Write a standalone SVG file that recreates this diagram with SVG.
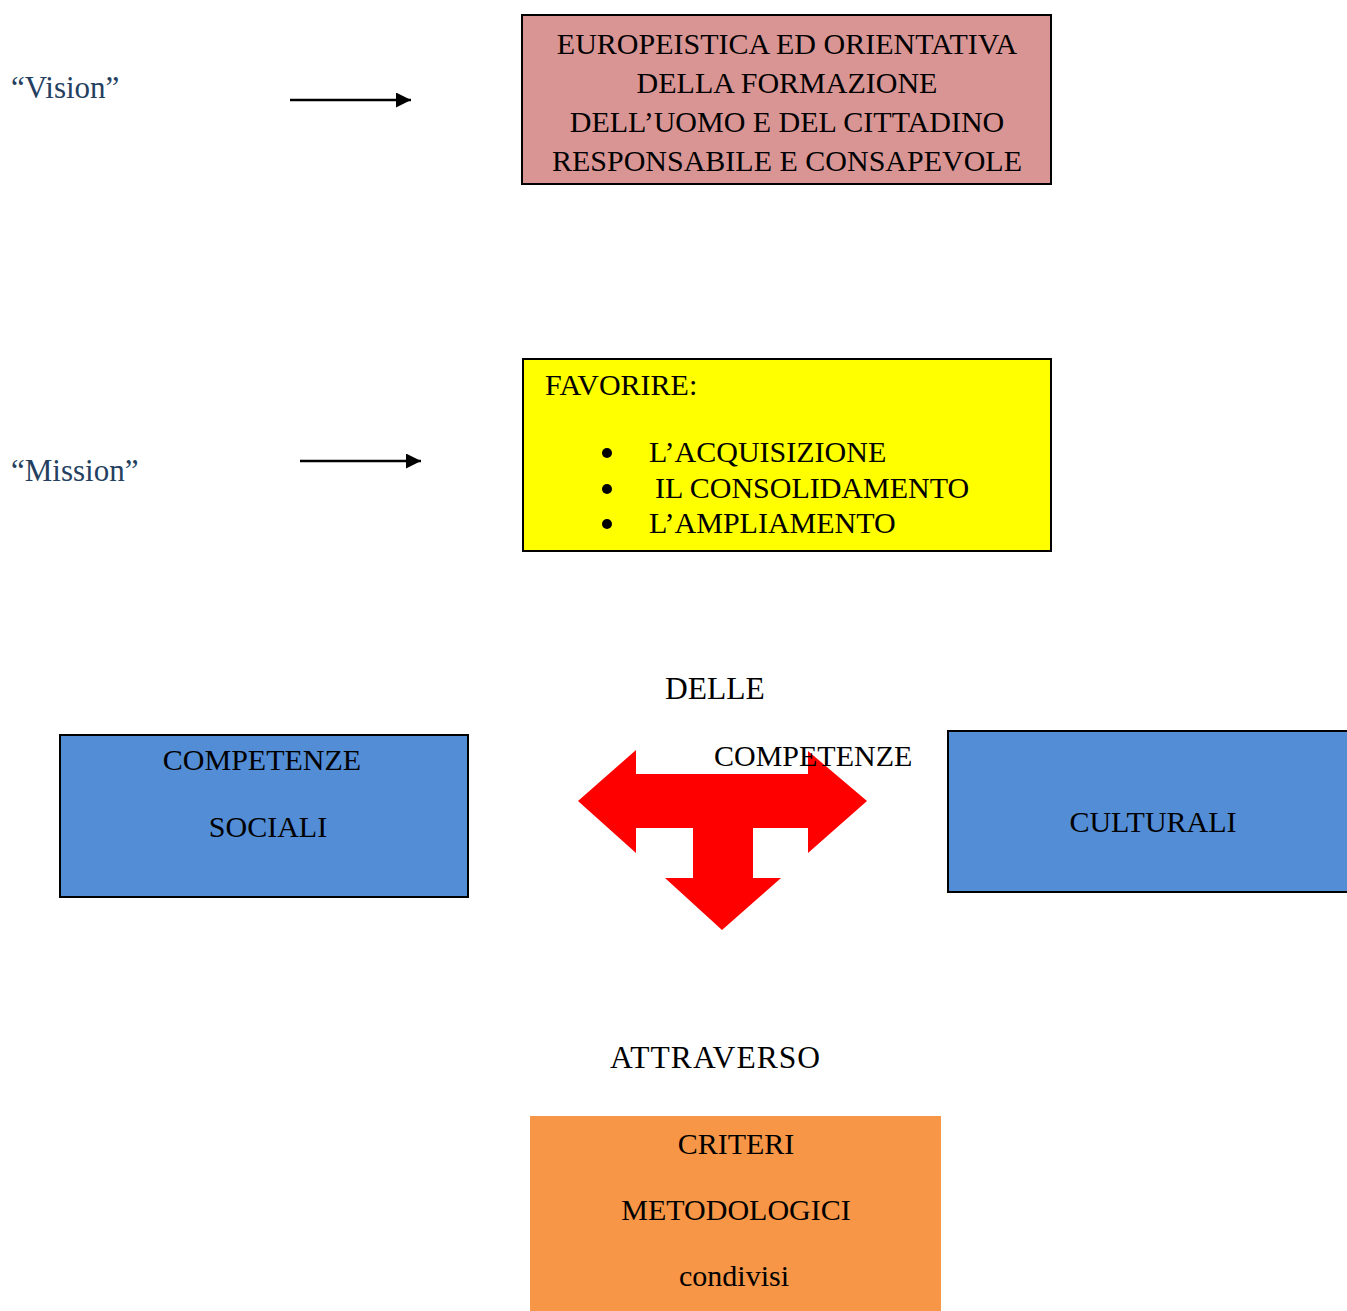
<svg xmlns="http://www.w3.org/2000/svg" width="1347" height="1311" viewBox="0 0 1347 1311">
<style>
text{font-family:"Liberation Serif","Times New Roman",serif;font-size:30px;fill:#000}
.lbl{fill:#243F60;font-size:31px}
.big{font-size:31.5px}
.c{text-anchor:middle}
.box{stroke:#000;stroke-width:2}
.conn{stroke:#000;stroke-width:2.5;fill:none}
</style>
<defs>
<marker id="ah" viewBox="0 0 10 10" refX="10" refY="5" markerWidth="7" markerHeight="6" markerUnits="strokeWidth" orient="auto">
<path d="M0,0 L10,5 L0,10 Z" fill="#000"/>
</marker>
</defs>
<rect width="1347" height="1311" fill="#fff"/>
<g id="labels">
<text class="lbl" x="11" y="98">“Vision”</text>
<text class="lbl" x="11" y="481">“Mission”</text>
</g>
<g id="connectors">
<line class="conn" x1="290" y1="100" x2="411" y2="100" marker-end="url(#ah)"/>
<line class="conn" x1="300" y1="461" x2="421" y2="461" marker-end="url(#ah)"/>
</g>
<g id="vision">
<rect class="box" x="522" y="15" width="529" height="169" fill="#D99594"/>
<text class="c" x="787" y="54">EUROPEISTICA ED ORIENTATIVA</text>
<text class="c" x="787" y="93">DELLA FORMAZIONE</text>
<text class="c" x="787" y="132">DELL’UOMO E DEL CITTADINO</text>
<text class="c" x="787" y="171">RESPONSABILE E CONSAPEVOLE</text>
</g>
<g id="mission">
<rect class="box" x="523" y="359" width="528" height="192" fill="#FFFF00"/>
<text x="545" y="395">FAVORIRE:</text>
<circle cx="607" cy="453" r="5"/>
<circle cx="607" cy="489" r="5"/>
<circle cx="607" cy="524" r="5"/>
<text x="649" y="462">L’ACQUISIZIONE</text>
<text x="655" y="498">IL CONSOLIDAMENTO</text>
<text x="649" y="533">L’AMPLIAMENTO</text>
</g>
<g id="delle">
<text class="big" x="665" y="699">DELLE</text>
</g>
<g id="sociali">
<rect class="box" x="60" y="735" width="408" height="162" fill="#538DD5"/>
<text class="c" x="262" y="770">COMPETENZE</text>
<text class="c" x="268" y="837">SOCIALI</text>
</g>
<g id="culturali">
<rect class="box" x="948" y="731" width="402" height="161" fill="#538DD5"/>
<text class="c" x="1153" y="832">CULTURALI</text>
</g>
<g id="tee-arrow">
<polygon points="578,801 636,750 636,774 808,774 808,751 867,801 808,853 808,828 753,828 753,878 781,878 722,930 665,878 693,878 693,828 636,828 636,853" fill="#FF0000"/>
<text x="714" y="766">COMPETENZE</text>
</g>
<g id="attraverso">
<text class="big" x="610" y="1068" textLength="210">ATTRAVERSO</text>
</g>
<g id="criteri">
<rect x="530" y="1116" width="411" height="195" fill="#F79646"/>
<text class="c" x="736" y="1154">CRITERI</text>
<text class="c" x="736" y="1220">METODOLOGICI</text>
<text class="c" x="734" y="1286">condivisi</text>
</g>
</svg>
